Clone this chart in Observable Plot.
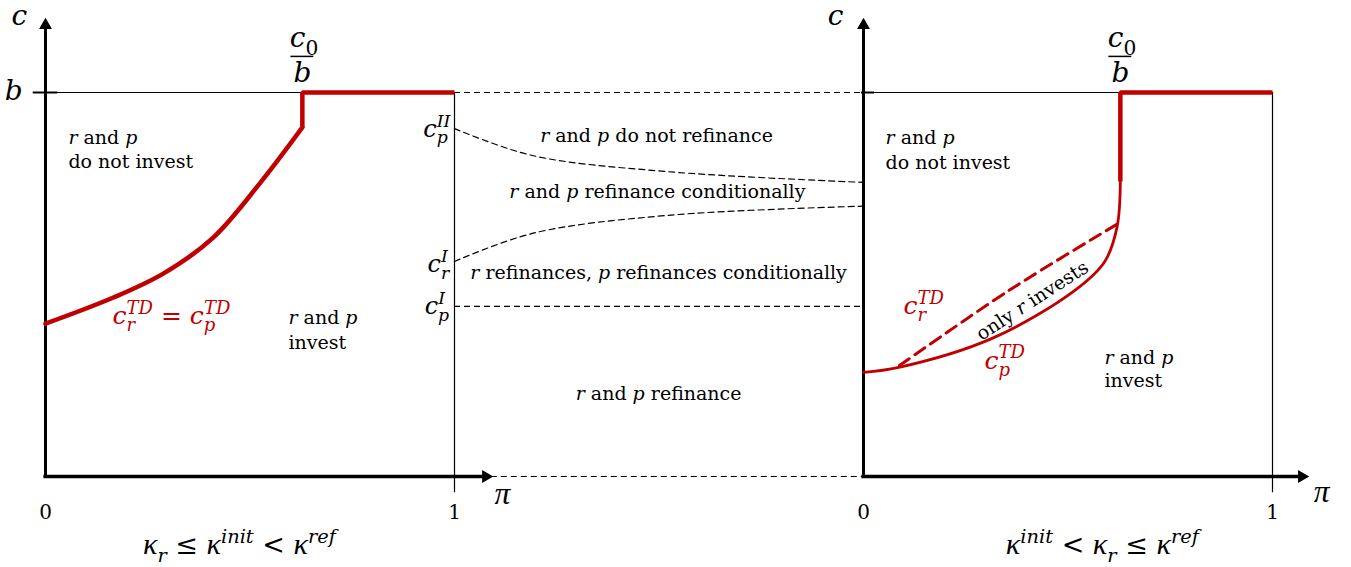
<!DOCTYPE html>
<html><head><meta charset="utf-8">
<script src="https://cdn.jsdelivr.net/npm/d3@7"></script>
<script src="https://cdn.jsdelivr.net/npm/@observablehq/plot@0.6"></script>
<style>
html,body{margin:0;padding:0;background:#fff;}
svg{display:block;}
</style></head><body>
<div id="chart"></div>
<script>
// ---------------- data (π on x, c on y; c = b is 1) ----------------
const RIGHT = 2;          // origin of the right panel on the shared π axis
const B = 1;              // c = b
const kinkPi = 0.628;     // π = c0 / b

// left panel: c_r^TD = c_p^TD
const leftCurvePi = [0, 0.166, 0.289, 0.41, 0.526, 0.628];
const leftCurveC  = [0.398, 0.466, 0.529, 0.622, 0.766, 0.909];

// middle thresholds (t from 0 at left π=1 to 1 at right axis)
const cpIIt = [0, 0.19, 0.52, 1.0];
const cpIIc = [0.906, 0.836, 0.794, 0.766];
const crIt  = [0, 0.19, 0.52, 1.0];
const crIc  = [0.560, 0.633, 0.680, 0.704];
const cpI = 0.443;

// right panel
const cpTDpi = [0, 0.086, 0.313, 0.516, 0.590, 0.620, 0.628];
const cpTDc  = [0.271, 0.284, 0.359, 0.484, 0.560, 0.650, 0.768];
const crTDpi = [0.088, 0.355, 0.623];
const crTDc  = [0.289, 0.484, 0.659];
const stepTopC = 0.768;

// texts
const regionStart = [
  {x: 0.056, c: 0.883, t: "*r* and *p*"},
  {x: 0.056, c: 0.818, t: "do not invest"},
  {x: 0.594, c: 0.414, t: "*r* and *p*"},
  {x: 0.594, c: 0.349, t: "invest"},
  {x: RIGHT + 0.054, c: 0.883, t: "*r* and *p*"},
  {x: RIGHT + 0.054, c: 0.816, t: "do not invest"},
  {x: RIGHT + 0.589, c: 0.310, t: "*r* and *p*"},
  {x: RIGHT + 0.589, c: 0.250, t: "invest"}
];
const regionMiddle = [
  {x: 1.494, c: 0.888, t: "*r* and *p* do not refinance"},
  {x: 1.496, c: 0.740, t: "*r* and *p* refinance conditionally"},
  {x: 1.499, c: 0.529, t: "*r* refinances, *p* refinances conditionally"},
  {x: 1.499, c: 0.216, t: "*r* and *p* refinance"}
];
const axisLetters = [
  {x: -0.064, c: 1.198, t: "*c*"},
  {x: RIGHT - 0.068, c: 1.198, t: "*c*"},
  {x: -0.078, c: 1.003, t: "*b*"},
  {x: 1.117, c: -0.047, t: "*π*"},
  {x: RIGHT + 1.120, c: -0.042, t: "*π*"},
  {x: kinkPi + 0.004, c: 1.141, t: "*c*_{0}"},
  {x: kinkPi, c: 1.052, t: "*b*"},
  {x: RIGHT + kinkPi + 0.004, c: 1.141, t: "*c*_{0}"},
  {x: RIGHT + kinkPi, c: 1.052, t: "*b*"}
];
const fractionBars = [kinkPi, RIGHT + kinkPi];
const thresholdLabels = [
  {x: 0.99, c: 0.905, t: "*c*_{p}^{II}"},
  {x: 0.987, c: 0.552, t: "*c*_{r}^{I}"},
  {x: 0.987, c: 0.443, t: "*c*_{p}^{I}"}
];
const redLabels = [
  {x: 0.164, c: 0.417, t: "*c*_{r}^{TD} = *c*_{p}^{TD}"},
  {x: RIGHT + 0.098, c: 0.443, t: "*c*_{r}^{TD}"},
  {x: RIGHT + 0.296, c: 0.302, t: "*c*_{p}^{TD}"}
];
const tickLabels = [
  {x: 0, t: "0"}, {x: 1, t: "1"}, {x: RIGHT, t: "0"}, {x: RIGHT + 1, t: "1"}
];
const conditions = [
  {x: 0.474, t: "*κ*_{r} ≤ *κ*^{init} < *κ*^{ref}"},
  {x: RIGHT + 0.584, t: "*κ*^{init} < *κ*_{r} ≤ *κ*^{ref}"}
];
const onlyR = [{x: RIGHT + 0.413, c: 0.458, t: "only *r* invests"}];

// ---------------- drawing ----------------
const red = "#c00000";
const FONT = "DejaVu Serif";
const rows = (xs, cs, off = 0) => xs.map((x, i) => ({x: x + off, c: cs[i]}));

const chart = Plot.plot({
  width: 1351, height: 567, margin: 0,
  x: {domain: [-45 / 409, 1306 / 409], axis: null},
  y: {domain: [(476 - 567) / 384, 476 / 384], axis: null},
  style: {fontFamily: FONT, background: "white", color: "black"},
  marks: [
    // thin frame lines
    Plot.ruleY([B], {x1: 0, x2: 1, stroke: "black", strokeWidth: 1.2}),
    Plot.ruleY([B], {x1: RIGHT, x2: RIGHT + 1, stroke: "black", strokeWidth: 1.2}),
    Plot.ruleY([B], {x1: -0.03, x2: 0.03, stroke: "black", strokeWidth: 2}),
    Plot.ruleY([B], {x1: RIGHT - 0.005, x2: RIGHT + 0.027, stroke: "black", strokeWidth: 2}),
    Plot.ruleX([1, RIGHT + 1], {y1: -0.042, y2: B, stroke: "black", strokeWidth: 1.2}),
    // dashed connectors
    Plot.ruleY([B, cpI], {x1: 1, x2: RIGHT, stroke: "black", strokeWidth: 1.2, strokeDasharray: "6,4"}),
    Plot.ruleY([0], {x1: 1.09, x2: RIGHT, stroke: "black", strokeWidth: 1.2, strokeDasharray: "6,4"}),
    Plot.line(rows(cpIIt, cpIIc, 1), {x: "x", y: "c", curve: "catmull-rom", stroke: "black", strokeWidth: 1.2, strokeDasharray: "6,4"}),
    Plot.line(rows(crIt, crIc, 1), {x: "x", y: "c", curve: "catmull-rom", stroke: "black", strokeWidth: 1.2, strokeDasharray: "6,4"}),
    // axes
    Plot.ruleX([0, RIGHT], {y1: 0, y2: 1.175, stroke: "black", strokeWidth: 3}),
    Plot.ruleY([0], {x1: -0.004, x2: 1.077, stroke: "black", strokeWidth: 3.5}),
    Plot.ruleY([0], {x1: RIGHT - 0.004, x2: RIGHT + 1.072, stroke: "black", strokeWidth: 3.5}),
    Plot.dot([{x: 0, c: 1.175}, {x: RIGHT, c: 1.175}], {x: "x", y: "c", symbol: "triangle", r: 4.8, fill: "black", stroke: "none"}),
    Plot.dot([{x: 1.0766, c: 0}, {x: RIGHT + 1.0716, c: 0}], {x: "x", y: "c", symbol: "triangle", r: 4.8, fill: "black", stroke: "none", rotate: 90}),
    // red curves
    Plot.line(rows(leftCurvePi, leftCurveC), {x: "x", y: "c", curve: "catmull-rom", stroke: red, strokeWidth: 4.5}),
    Plot.line([{x: kinkPi, c: leftCurveC[leftCurveC.length - 1]}, {x: kinkPi, c: B}, {x: 1, c: B}],
      {x: "x", y: "c", stroke: red, strokeWidth: 4.5, strokeLinejoin: "miter", strokeLinecap: "butt"}),
    Plot.line(rows(cpTDpi, cpTDc, RIGHT), {x: "x", y: "c", curve: "catmull-rom", stroke: red, strokeWidth: 2.8}),
    Plot.line(rows(crTDpi, crTDc, RIGHT), {x: "x", y: "c", curve: "catmull-rom", stroke: red, strokeWidth: 3, strokeDasharray: "12,7"}),
    Plot.line([{x: RIGHT + kinkPi, c: stepTopC}, {x: RIGHT + kinkPi, c: B}, {x: RIGHT + 1, c: B}],
      {x: "x", y: "c", stroke: red, strokeWidth: 4.5, strokeLinejoin: "miter", strokeLinecap: "butt"}),
    // fraction bars c0 / b
    Plot.ruleY(fractionBars.map(x => ({x, c: 1.094})), {x1: d => d.x - 0.028, x2: d => d.x + 0.028, y: "c", stroke: "black", strokeWidth: 1.5}),
    // texts
    Plot.text(regionStart, {x: "x", y: "c", text: "t", textAnchor: "start", fontSize: 19, fill: "black"}),
    Plot.text(regionMiddle, {x: "x", y: "c", text: "t", textAnchor: "middle", fontSize: 19, fill: "black"}),
    Plot.text(axisLetters, {x: "x", y: "c", text: "t", textAnchor: "middle", fontSize: 28, fill: "black"}),
    Plot.text(thresholdLabels, {x: "x", y: "c", text: "t", textAnchor: "end", fontSize: 24, fill: "black"}),
    Plot.text(redLabels, {x: "x", y: "c", text: "t", textAnchor: "start", fontSize: 25, fill: red}),
    Plot.text(tickLabels, {x: "x", y: () => -0.094, text: "t", textAnchor: "middle", fontSize: 20, fill: "black"}),
    Plot.text(conditions, {x: "x", y: () => -0.18, text: "t", textAnchor: "middle", fontSize: 27, fill: "black"}),
    Plot.text(onlyR, {x: "x", y: "c", text: "t", textAnchor: "middle", fontSize: 19, fill: "black", rotate: -33})
  ]
});
document.getElementById("chart").append(chart);

// rich text: *italic*, _{sub}, ^{sup}
function tokenize(raw) {
  const out = []; let i = 0;
  while (i < raw.length) {
    const ch = raw[i];
    if (ch === "*") { const j = raw.indexOf("*", i + 1); out.push({type: "it", s: raw.slice(i + 1, j)}); i = j + 1; }
    else if ((ch === "_" || ch === "^") && raw[i + 1] === "{") {
      const j = raw.indexOf("}", i + 2); out.push({type: ch === "_" ? "sub" : "sup", s: raw.slice(i + 2, j)}); i = j + 1;
    } else { let j = i; while (j < raw.length && !"*_^".includes(raw[j])) j++; out.push({type: "n", s: raw.slice(i, j)}); i = j; }
  }
  return out;
}
chart.querySelectorAll("text").forEach(el => {
  const raw = el.textContent;
  if (!/[*_^]/.test(raw)) return;
  const fs = parseFloat(getComputedStyle(el).fontSize);
  el.textContent = "";
  el.style.whiteSpace = "pre";
  let shift = 0, prev = null;
  for (const tk of tokenize(raw)) {
    const ts = document.createElementNS("http://www.w3.org/2000/svg", "tspan");
    ts.textContent = tk.s;
    let target = 0;
    const script = tk.type === "sub" || tk.type === "sup";
    if (tk.type === "sub") target = 0.28 * fs;
    if (tk.type === "sup") target = -0.42 * fs;
    if (script) ts.setAttribute("font-size", (0.72 * fs).toFixed(1));
    if (/[κπ]/.test(tk.s)) {
      ts.setAttribute("font-family", "Liberation Serif");
      ts.setAttribute("font-size", (1.12 * fs).toFixed(1));
    }
    ts.setAttribute("font-style", (tk.type === "it" || (script && !/^\d+$/.test(tk.s))) ? "italic" : "normal");
    if (target - shift !== 0) ts.setAttribute("dy", (target - shift).toFixed(2));
    shift = target;
    el.appendChild(ts);
    if (prev && script && prev.script && prev.type !== tk.type) {
      ts.setAttribute("dx", (-prev.el.getComputedTextLength()).toFixed(2));
    }
    prev = {type: tk.type, script, el: ts};
  }
});
</script>
</body></html>
